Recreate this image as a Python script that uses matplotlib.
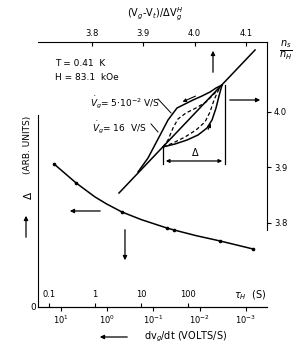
import matplotlib
matplotlib.use("Agg")
import matplotlib.pyplot as plt
from matplotlib.ticker import NullLocator

# --- data ---
# Delta vs relaxation time tau_H (lower / left axes)
tau_pts = [0.13, 0.39, 3.8, 36, 51, 500, 2600]
delta_pts = [0.745, 0.646, 0.495, 0.411, 0.401, 0.344, 0.302]
tau_line = [0.13, 0.39, 1.0, 1.8, 3.8, 10, 36, 51, 150, 500, 2600]
delta_line = [0.745, 0.646, 0.573, 0.536, 0.495, 0.455, 0.411, 0.401, 0.372, 0.344, 0.302]

# hysteresis loop, x = (Vg-Vt)/dVg^H, y = ns/nH (upper / right axes)
diag_x = [3.8526, 4.1176]
diag_y = [3.8540, 4.1117]
fast_up_x = [3.8896, 3.9091, 3.9286, 3.9481, 3.9656, 3.9812, 3.9968, 4.0143, 4.0299, 4.0416, 4.0533]
fast_up_y = [3.8919, 3.9171, 3.9513, 3.9856, 4.0072, 4.0144, 4.0216, 4.0288, 4.0360, 4.0432, 4.0486]
fast_lo_x = [3.9383, 3.9617, 3.9851, 4.0065, 4.0240, 4.0338, 4.0416, 4.0474, 4.0533]
fast_lo_y = [3.9369, 3.9423, 3.9495, 3.9585, 3.9711, 3.9856, 4.0072, 4.0288, 4.0486]
slow_up_x = [3.9383, 3.9481, 3.9578, 3.9675, 3.9831, 4.0026, 4.0221, 4.0377, 4.0533]
slow_up_y = [3.9369, 3.9495, 3.9711, 3.9874, 3.9982, 4.0072, 4.0180, 4.0324, 4.0486]
slow_lo_x = [3.9383, 3.9578, 3.9812, 4.0026, 4.0201, 4.0299, 4.0377, 4.0455, 4.0533]
slow_lo_y = [3.9369, 3.9441, 3.9549, 3.9675, 3.9820, 4.0000, 4.0216, 4.0378, 4.0486]

tau_ticks = [0.1, 1, 10, 100]
tau_labels = ["0.1", "1", "10", "100"]
rate_ticks = [1e1, 1e0, 1e-1, 1e-2, 1e-3]
rate_labels = ["$10^{1}$", "$10^{0}$", "$10^{-1}$", "$10^{-2}$", "$10^{-3}$"]
rate_const = 1.82  # dVg/dt = rate_const / tau_H
top_ticks = [3.8, 3.9, 4.0, 4.1]
right_ticks = [3.8, 3.9, 4.0]

plt.rcParams['font.family'] = ['DejaVu Sans']
plt.rcParams['mathtext.fontset'] = 'dejavusans'

W, H = 306, 353
fig = plt.figure(figsize=(W / 100, H / 100), dpi=100)
rect = [38 / W, 1 - 307 / H, (267 - 38) / W, (307 - 42) / H]

def px(x, y):
    return (x / W, 1 - y / H)

arr = dict(arrowstyle='-|>', color='black', lw=0.9, mutation_scale=6)
small_arr = dict(arrowstyle='-|>', color='black', lw=0.8, mutation_scale=5)

# ---- lower axes: Delta vs tau ----
ax = fig.add_axes(rect)
ax.patch.set_visible(False)
ax.set_xscale('log')
ax.set_xlim(0.0587, 5190)
ax.set_ylim(0, 1.38)
ax.plot(tau_line, delta_line, color='black', lw=1.1)
ax.plot(tau_pts, delta_pts, ls='none', marker='o', ms=1.6, color='black')
for s in ['top', 'right']:
    ax.spines[s].set_visible(False)
ax.spines['left'].set_bounds(0, 1.0)
ax.set_yticks([0])
ax.set_yticklabels(['0'], fontsize=6.5)
ax.tick_params(axis='y', length=0, pad=1)
ax.set_xticks(tau_ticks)
ax.set_xticklabels(tau_labels, fontsize=6)
ax.xaxis.set_minor_locator(NullLocator())
ax.tick_params(axis='x', direction='in', length=3, pad=-12)

sec = ax.secondary_xaxis('bottom', functions=(lambda t: rate_const / t, lambda v: rate_const / v))
sec.set_xticks(rate_ticks)
sec.set_xticklabels(rate_labels, fontsize=6)
sec.xaxis.set_minor_locator(NullLocator())
sec.tick_params(direction='out', length=3, pad=1.5)

# arrows pointing from the Delta curve to its axes
ax.annotate('', xy=(0.249, 0.5), xytext=(1.49, 0.5), arrowprops=arr)
ax.annotate('', xy=(4.44, 0.229), xytext=(4.44, 0.417), arrowprops=arr)
ax.text(2300, 0.06, r'$\tau_H$  (S)', fontsize=7, ha='center', va='center')

# ---- upper axes: hysteresis loop ----
ax2 = fig.add_axes(rect)
ax2.patch.set_visible(False)
ax2.set_xlim(3.6948, 4.1409)
ax2.set_ylim(3.6486, 4.1261)
ax2.plot(diag_x, diag_y, color='black', lw=1.1)
ax2.plot(fast_up_x, fast_up_y, color='black', lw=1.1)
ax2.plot(fast_lo_x, fast_lo_y, color='black', lw=1.1)
ax2.plot(slow_up_x, slow_up_y, color='black', lw=0.9, ls=(0, (3, 2)))
ax2.plot(slow_lo_x, slow_lo_y, color='black', lw=0.9, ls=(0, (3, 2)))
for s in ['bottom', 'left']:
    ax2.spines[s].set_visible(False)
ax2.spines['right'].set_bounds(3.7874, 4.1261)
ax2.xaxis.tick_top()
ax2.yaxis.tick_right()
ax2.set_xticks(top_ticks)
ax2.set_xticklabels([f"{v:.1f}" for v in top_ticks], fontsize=6)
ax2.set_yticks(right_ticks)
ax2.set_yticklabels([f"{v:.1f}" for v in right_ticks], fontsize=6)
ax2.tick_params(axis='x', direction='in', length=3, pad=3)
ax2.tick_params(axis='y', direction='out', length=3, pad=2)

ax2.annotate('', xy=(4.0357, 4.1153), xytext=(4.0357, 4.0666), arrowprops=arr)
ax2.annotate('', xy=(4.1331, 4.0216), xytext=(4.063, 4.0216), arrowprops=arr)
# sweep direction arrows on the loop
ax2.annotate('', xy=(3.9714, 4.0162), xytext=(4.0065, 4.0306), arrowprops=small_arr)
ax2.annotate('', xy=(4.0338, 3.9838), xytext=(4.0240, 3.9640), arrowprops=small_arr)
# Delta bracket
ax2.plot([3.9383, 3.9383], [3.9369, 3.9063], color='black', lw=0.9)
ax2.plot([4.0591, 4.0591], [4.0486, 3.9063], color='black', lw=0.9)
ax2.annotate('', xy=(3.9383, 3.9117), xytext=(4.0591, 3.9117),
             arrowprops=dict(arrowstyle='<|-|>', color='black', lw=0.9, mutation_scale=5))
ax2.text(4.0007, 3.9270, r'$\Delta$', fontsize=7, ha='center', va='center')
# leader lines for the two sweep rates
ax2.plot([3.9286, 3.9540], [4.0234, 3.9982], color='black', lw=0.7)
ax2.plot([3.9150, 3.9286], [3.9784, 3.9640], color='black', lw=0.7)

# ---- free texts ----
fig.text(*px(55, 63), 'T = 0.41  K', fontsize=6.5, va='center')
fig.text(*px(55, 77), 'H = 83.1  kOe', fontsize=6.5, va='center')
fig.text(*px(90, 103), r'$\dot{V}_g$= 5$\cdot$10$^{-2}$ V/S', fontsize=6.5, va='center')
fig.text(*px(92, 128), r'$\dot{V}_g$= 16  V/S', fontsize=6.5, va='center')
fig.text(*px(155, 14), r'(V$_g$-V$_t$)/$\Delta$V$_g^H$', fontsize=7, ha='center', va='center')
fig.text(*px(286, 50), r'$\frac{n_s}{n_H}$', fontsize=10, ha='center', va='center')
fig.text(*px(28, 195), r'$\Delta$', fontsize=7.5, rotation=90, ha='center', va='center')
fig.text(*px(28, 145), '(ARB. UNITS)', fontsize=6.5, rotation=90, ha='center', va='center')
fig.text(*px(186, 337), r'dv$_g$/dt (VOLTS/S)', fontsize=7, ha='center', va='center')

ax.annotate('', xy=px(26, 213), xytext=px(26, 240), xycoords='figure fraction',
            textcoords='figure fraction', arrowprops=arr, annotation_clip=False)
ax.annotate('', xy=px(97, 337), xytext=px(130, 337), xycoords='figure fraction',
            textcoords='figure fraction', arrowprops=arr, annotation_clip=False)

fig.savefig('out.png', dpi=100, facecolor='white')
